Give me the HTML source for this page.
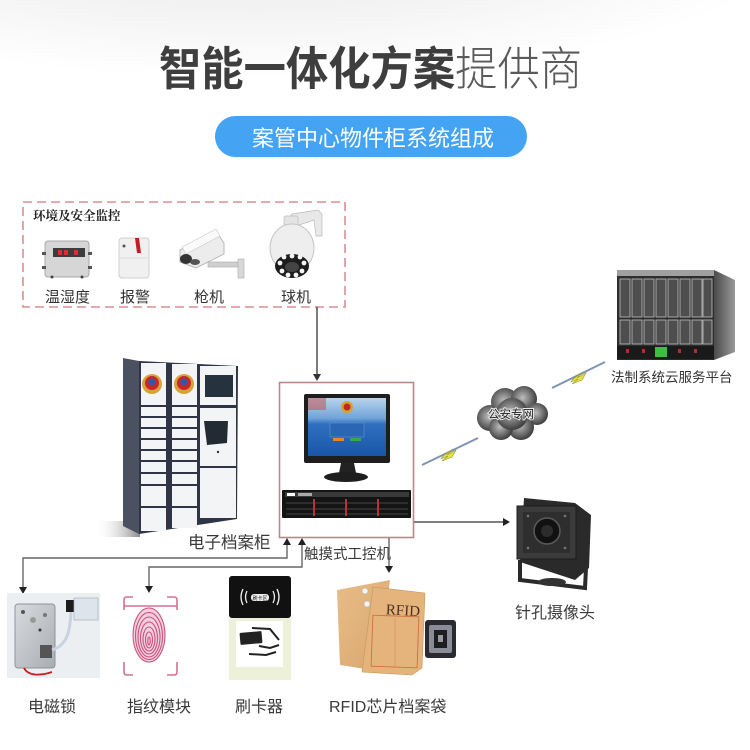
<!DOCTYPE html>
<html><head><meta charset="utf-8">
<style>
html,body{margin:0;padding:0;background:#fff;width:750px;height:750px;overflow:hidden;}
svg{display:block;}
text{font-family:"Liberation Sans","Noto Sans CJK SC",sans-serif;}
.lbl{font-size:16px;fill:#3a3a3a;}
</style></head><body>
<svg width="750" height="750" viewBox="0 0 750 750" xmlns="http://www.w3.org/2000/svg">
<defs>
 <radialGradient id="bgG" cx="0.45" cy="0.1" r="0.6">
  <stop offset="0" stop-color="#ebebeb"/><stop offset="0.55" stop-color="#f3f3f3"/><stop offset="1" stop-color="#ffffff"/>
 </radialGradient>
 <linearGradient id="scr" x1="0" y1="0" x2="0" y2="1">
  <stop offset="0" stop-color="#b9d3ec"/><stop offset="0.35" stop-color="#6fa3d8"/><stop offset="0.45" stop-color="#2f6fc0"/><stop offset="1" stop-color="#1a56a8"/>
 </linearGradient>
 <radialGradient id="cloudG" cx="0.45" cy="0.45" r="0.6">
  <stop offset="0" stop-color="#bdbdbd"/><stop offset="0.6" stop-color="#6a6a6a"/><stop offset="1" stop-color="#333"/>
 </radialGradient>
 <linearGradient id="shadow" x1="0" y1="0" x2="1" y2="0">
  <stop offset="0" stop-color="#fff" stop-opacity="0"/><stop offset="1" stop-color="#8a8a8a"/>
 </linearGradient>
 <linearGradient id="metal" x1="0" y1="0" x2="1" y2="1">
  <stop offset="0" stop-color="#d8dbde"/><stop offset="1" stop-color="#a9adb2"/>
 </linearGradient>
 <linearGradient id="kraft" x1="0" y1="0" x2="1" y2="1">
  <stop offset="0" stop-color="#e8bd88"/><stop offset="1" stop-color="#d9a56e"/>
 </linearGradient>
 <linearGradient id="side" x1="0" y1="0" x2="1" y2="0">
  <stop offset="0" stop-color="#4a4a4a"/><stop offset="1" stop-color="#9a9a9a"/>
 </linearGradient>
</defs>

<!-- background -->
<rect width="750" height="750" fill="#fff"/>
<ellipse cx="300" cy="30" rx="460" ry="120" fill="url(#bgG)"/>

<!-- title -->
<g transform="translate(159,85) scale(0.92,1)">
 <text font-size="46" font-weight="bold" fill="#3e3e3e">智能一体化方案<tspan font-weight="300" fill="#5a5a5a">提供商</tspan></text>
</g>

<!-- pill -->
<rect x="215" y="116" width="312" height="41" rx="20.5" fill="#44a3f2"/>
<text x="373" y="146" font-size="22" fill="#fff" text-anchor="middle">案管中心物件柜系统组成</text>

<!-- dashed env box -->
<rect x="23" y="202" width="322" height="105" fill="none" stroke="#dc8e92" stroke-width="1.6" stroke-dasharray="9 5"/>
<text x="33" y="220" font-size="12.5" font-weight="bold" fill="#222" style="font-family:'Liberation Serif','Noto Serif CJK SC',serif">环境及安全监控</text>

<!-- temp/humidity device -->
<rect x="45" y="241" width="44" height="36" rx="3" fill="#d6d6d6" stroke="#a8a8a8"/>
<rect x="53" y="248" width="32" height="9" fill="#3c3c3c"/>
<rect x="58" y="250" width="4" height="5" fill="#d83030"/><rect x="64" y="250" width="4" height="5" fill="#d83030"/><rect x="74" y="250" width="4" height="5" fill="#d83030"/>
<rect x="42" y="252" width="4" height="3" fill="#555"/><rect x="42" y="266" width="4" height="3" fill="#555"/>
<rect x="88" y="252" width="4" height="3" fill="#555"/><rect x="88" y="266" width="4" height="3" fill="#555"/>
<circle cx="52" cy="277" r="1.5" fill="#444"/><circle cx="82" cy="277" r="1.5" fill="#444"/>

<!-- alarm -->
<rect x="119" y="238" width="30" height="40" rx="3" fill="#f0f0f0" stroke="#cfcfcf"/>
<line x1="120" y1="258" x2="148" y2="258" stroke="#ddd"/>
<path d="M135,238 L139,238 L141,253 L137,253 z" fill="#c41e24"/>
<circle cx="124" cy="246" r="1.5" fill="#555"/>

<!-- gun camera -->
<rect x="208" y="262" width="34" height="5" fill="#cfcfcf" stroke="#aaa" stroke-width="0.6"/>
<rect x="238" y="259" width="6" height="19" fill="#d8d8d8" stroke="#aaa" stroke-width="0.6"/>
<path d="M180,250 L216,231 L224,243 L224,254 L196,268 L180,262 z" fill="#ececec" stroke="#b8b8b8"/>
<path d="M182,247 L216,229 L220,236 L186,254 z" fill="#fafafa" stroke="#c8c8c8" stroke-width="0.6"/>
<ellipse cx="186" cy="259" rx="6" ry="5" fill="#333"/>
<ellipse cx="195" cy="262" rx="5" ry="3" fill="#555"/>

<!-- dome camera -->
<path d="M286,222 L292,214 L318,210 L322,214 L322,236 L316,236 L314,220 L296,226 z" fill="#e8e8e8" stroke="#bbb" stroke-width="0.7"/>
<rect x="284" y="216" width="14" height="10" rx="2" fill="#e4e4e4" stroke="#bbb" stroke-width="0.7"/>
<ellipse cx="292" cy="248" rx="22" ry="24" fill="#eeeeee" stroke="#c4c4c4"/>
<ellipse cx="292" cy="266" rx="17" ry="12" fill="#1d1d1d"/>
<ellipse cx="292" cy="267" rx="7" ry="5" fill="#444"/>
<g fill="#f5f5f5">
<circle cx="280" cy="263" r="2.4"/><circle cx="284" cy="257" r="2.4"/><circle cx="292" cy="256" r="2.4"/><circle cx="300" cy="257" r="2.4"/><circle cx="304" cy="263" r="2.4"/>
<circle cx="282" cy="271" r="2.4"/><circle cx="288" cy="275" r="2.4"/><circle cx="296" cy="275" r="2.4"/><circle cx="302" cy="271" r="2.4"/>
</g>

<text x="45" y="302" font-size="15" fill="#333">温湿度</text>
<text x="120" y="302" font-size="15" fill="#333">报警</text>
<text x="194" y="302" font-size="15" fill="#333">枪机</text>
<text x="281" y="302" font-size="15" fill="#333">球机</text>

<!-- vertical connector down to computer box -->
<line x1="317" y1="307" x2="317" y2="375" stroke="#444" stroke-width="1.4"/>
<path d="M313,374 L321,374 L317,381 z" fill="#333"/>

<!-- cabinet -->
<rect x="95" y="521" width="45" height="16" fill="url(#shadow)"/>
<polygon points="123,358 139,361 139,534 123,526" fill="#4b5160"/>
<polygon points="139,361 238,366 237,519 139,534" fill="#2f3546"/>
<g fill="#f3f4f6">
<rect x="141" y="363" width="25" height="42"/>
<rect x="141" y="407" width="25" height="9"/><rect x="141" y="418" width="25" height="9"/><rect x="141" y="429" width="25" height="9"/><rect x="141" y="440" width="25" height="9"/><rect x="141" y="451" width="25" height="9"/><rect x="141" y="462" width="25" height="10"/><rect x="141" y="474" width="25" height="10"/><rect x="141" y="486" width="25" height="20"/><rect x="141" y="508" width="25" height="23"/>
<rect x="172" y="364" width="25" height="41"/>
<rect x="172" y="407" width="25" height="9"/><rect x="172" y="418" width="25" height="9"/><rect x="172" y="429" width="25" height="9"/><rect x="172" y="440" width="25" height="9"/><rect x="172" y="451" width="25" height="9"/><rect x="172" y="462" width="25" height="10"/><rect x="172" y="474" width="25" height="10"/><rect x="172" y="486" width="25" height="20"/><rect x="172" y="508" width="25" height="20"/>
<rect x="200" y="366" width="36" height="39"/>
<rect x="200" y="408" width="36" height="58"/>
<rect x="200" y="468" width="36" height="50"/>
</g>
<rect x="205" y="375" width="28" height="22" fill="#27323f"/>
<polygon points="204,421 228,421 227,443 207,445" fill="#222a33"/>
<circle cx="218" cy="452" r="1.2" fill="#333"/>
<circle cx="152" cy="384" r="10" fill="#d9a33a"/><circle cx="152" cy="383" r="7" fill="#c82828"/><circle cx="152" cy="382" r="3.5" fill="#2c5aa8"/>
<circle cx="184" cy="384" r="10" fill="#d9a33a"/><circle cx="184" cy="383" r="7" fill="#c82828"/><circle cx="184" cy="382" r="3.5" fill="#2c5aa8"/>
<text x="188" y="548" font-size="16.5" fill="#3a3a3a">电子档案柜</text>

<!-- computer box -->
<rect x="279.5" y="382.5" width="134" height="155" fill="#fff" stroke="#b68a8a" stroke-width="1.6"/>
<rect x="304" y="394" width="86" height="69" rx="2" fill="#1e1e1e"/>
<rect x="308" y="398" width="78" height="58" fill="url(#scr)"/>
<rect x="308" y="398" width="18" height="12" fill="#c85050" opacity="0.55"/>
<circle cx="347" cy="407" r="6" fill="#d8a030"/><circle cx="347" cy="407" r="3.5" fill="#c02828"/>
<rect x="330" y="423" width="34" height="14" fill="#2a66b4" stroke="#6c9ad4" stroke-width="0.5"/>
<rect x="333" y="438" width="11" height="3" fill="#e8842a"/><rect x="350" y="438" width="11" height="3" fill="#2fae45"/>
<polygon points="341,463 354,463 356,473 339,473" fill="#222"/>
<ellipse cx="346" cy="477" rx="22" ry="5" fill="#1e1e1e"/>
<rect x="282" y="490" width="129" height="28" rx="1" fill="#141414"/>
<rect x="285" y="492" width="124" height="5" fill="#3a3a3a"/>
<rect x="287" y="493" width="8" height="3" fill="#fff"/><rect x="298" y="493" width="14" height="3" fill="#aaa"/>
<g stroke="#555" stroke-width="0.8">
<line x1="286" y1="503" x2="408" y2="503"/><line x1="286" y1="509" x2="408" y2="509"/><line x1="286" y1="514" x2="408" y2="514"/>
</g>
<g fill="#c03030">
<rect x="313" y="499" width="2" height="17"/><rect x="345" y="499" width="2" height="17"/><rect x="377" y="499" width="2" height="17"/>
</g>
<text x="304" y="559" font-size="14.5" fill="#3a3a3a">触摸式工控机</text>

<!-- line to pinhole camera -->
<line x1="414" y1="522" x2="505" y2="522" stroke="#555" stroke-width="1.4"/>
<path d="M503,518 L510,522 L503,526 z" fill="#222"/>

<!-- bottom connectors -->
<g fill="none" stroke="#666" stroke-width="1.4">
<polyline points="287,543 287,558 23,558 23,588"/>
<polyline points="302,543 302,567 149,567 149,587"/>
<line x1="389" y1="538" x2="389" y2="567"/>
</g>
<g fill="#222">
<path d="M283,545 L287,538 L291,545 z"/>
<path d="M298,545 L302,538 L306,545 z"/>
<path d="M19,587 L27,587 L23,594 z"/>
<path d="M145,586 L153,586 L149,593 z"/>
<path d="M385,566 L393,566 L389,573 z"/>
</g>

<!-- network lines -->
<line x1="422" y1="465" x2="478" y2="438" stroke="#7f93b4" stroke-width="2"/>
<path d="M443,456 L453,449 L447,455 L456,450 L452,457 L442,461 L448,456 L441,459 z" fill="#e6e040" stroke="#9a9a30" stroke-width="0.6"/>
<line x1="552" y1="388" x2="605" y2="362" stroke="#7f93b4" stroke-width="2"/>
<path d="M573,379 L583,372 L577,378 L586,373 L582,380 L572,384 L578,379 L571,382 z" fill="#e6e040" stroke="#9a9a30" stroke-width="0.6"/>
<!-- cloud -->
<g fill="url(#cloudG)">
<circle cx="490" cy="418" r="13"/><circle cx="505" cy="402" r="14"/><circle cx="524" cy="399" r="13"/><circle cx="537" cy="414" r="11"/><circle cx="521" cy="427" r="13"/><circle cx="501" cy="428" r="12"/><circle cx="512" cy="414" r="16"/>
</g>
<text x="511" y="418" font-size="11.5" fill="#222" text-anchor="middle" stroke="#e8e8e8" stroke-width="2" paint-order="stroke">公安专网</text>

<!-- server rack -->
<rect x="617" y="270" width="97" height="90" fill="#2e2e2e"/>
<polygon points="714,270 735,280 735,352 714,360" fill="url(#side)"/>
<rect x="617" y="270" width="97" height="6" fill="#a0a0a0"/>
<g fill="#4e4e4e" stroke="#b4b4b4" stroke-width="0.9">
<rect x="620" y="279" width="10" height="38"/><rect x="632" y="279" width="10" height="38"/><rect x="644" y="279" width="10" height="38"/><rect x="656" y="279" width="10" height="38"/><rect x="668" y="279" width="10" height="38"/><rect x="680" y="279" width="10" height="38"/><rect x="692" y="279" width="10" height="38"/><rect x="703" y="279" width="9" height="38"/>
<rect x="620" y="320" width="10" height="24"/><rect x="632" y="320" width="10" height="24"/><rect x="644" y="320" width="10" height="24"/><rect x="656" y="320" width="10" height="24"/><rect x="668" y="320" width="10" height="24"/><rect x="680" y="320" width="10" height="24"/><rect x="692" y="320" width="10" height="24"/><rect x="703" y="320" width="9" height="24"/>
</g>
<rect x="617" y="346" width="97" height="13" fill="#1a1a1a"/>
<rect x="655" y="347" width="12" height="10" fill="#3fbf3f"/>
<g fill="#b03030"><rect x="626" y="349" width="3" height="4"/><rect x="642" y="349" width="3" height="4"/><rect x="678" y="349" width="3" height="4"/><rect x="694" y="349" width="3" height="4"/></g>
<text x="611" y="382" font-size="13.5" fill="#333">法制系统云服务平台</text>

<!-- pinhole camera -->
<path d="M520,560 L520,580 L585,588 L586,568" fill="none" stroke="#2a2a2a" stroke-width="4"/>
<ellipse cx="552" cy="582" rx="14" ry="4" fill="#333"/>
<polygon points="524,498 575,503 591,515 589,568 575,580 520,562" fill="#2a2a2a"/>
<rect x="517" y="506" width="59" height="53" fill="#3b3b3b" stroke="#1c1c1c"/>
<rect x="523" y="512" width="47" height="41" fill="#2e2e2e"/>
<circle cx="547" cy="531" r="13" fill="#111" stroke="#5a5a5a" stroke-width="1.5"/>
<circle cx="547" cy="531" r="6" fill="#2c2c2c"/>
<g fill="#777"><circle cx="528" cy="516" r="1.3"/><circle cx="565" cy="516" r="1.3"/><circle cx="528" cy="548" r="1.3"/><circle cx="565" cy="548" r="1.3"/></g>
<text x="515" y="618" class="lbl">针孔摄像头</text>

<!-- electromagnetic lock -->
<rect x="7" y="593" width="93" height="85" fill="#eceff2"/>
<rect x="15" y="604" width="40" height="64" rx="3" fill="url(#metal)" stroke="#8f9398"/>
<circle cx="23" cy="612" r="2" fill="#555"/><circle cx="33" cy="620" r="3" fill="#999"/><circle cx="40" cy="630" r="1.5" fill="#333"/><circle cx="45" cy="615" r="2" fill="#777"/>
<rect x="40" y="645" width="12" height="13" fill="#555"/>
<path d="M52,650 C68,645 70,630 71,612" fill="none" stroke="#c7d3de" stroke-width="3"/>
<rect x="66" y="600" width="8" height="12" fill="#1c1c1c"/>
<rect x="74" y="598" width="24" height="22" fill="#dde4ec" stroke="#a8b0bb" stroke-width="0.7"/>
<path d="M24,668 C28,676 40,676 52,672" fill="none" stroke="#c02020" stroke-width="1.8"/>

<!-- fingerprint -->
<g fill="none" stroke="#d47090" stroke-width="1.6">
<path d="M124,610 V600 Q124,597 127,597 H133"/>
<path d="M167,597 H174 Q177,597 177,600 V610"/>
<line x1="124" y1="606" x2="177" y2="606"/>
<path d="M124,662 V672 Q124,675 127,675 H133"/>
<path d="M167,675 H174 Q177,675 177,672 V662"/>
</g>
<ellipse cx="149" cy="635" rx="16" ry="27" fill="#f3cfdb"/>
<g fill="none" stroke="#c95580" stroke-width="1.1">
<ellipse cx="149" cy="635" rx="16" ry="27"/><ellipse cx="149" cy="636" rx="13.5" ry="23.5"/><ellipse cx="149" cy="637" rx="11" ry="20"/><ellipse cx="149" cy="638" rx="8.5" ry="16"/><ellipse cx="149" cy="639" rx="6" ry="12"/><ellipse cx="149" cy="640" rx="3.5" ry="8"/><ellipse cx="149" cy="641" rx="1.2" ry="4"/>
</g>

<!-- card reader -->
<rect x="229" y="576" width="62" height="42" rx="3" fill="#111"/>
<g fill="none" stroke="#eee" stroke-width="1.3">
<path d="M243,589 Q239,597 243,605"/><path d="M247,591 Q244,597 247,603"/>
<path d="M277,589 Q281,597 277,605"/><path d="M273,591 Q276,597 273,603"/>
</g>
<rect x="251" y="594" width="18" height="7" rx="3" fill="#eee"/>
<text x="260" y="600" font-size="5" fill="#111" text-anchor="middle">刷卡区</text>
<rect x="229" y="618" width="62" height="62" fill="#eef1d9"/>
<rect x="236" y="621" width="47" height="46" fill="#fff"/>
<rect x="240" y="632" width="22" height="12" rx="1" transform="rotate(-5 251 638)" fill="#222"/>
<g fill="none" stroke="#222" stroke-width="2">
<path d="M252,628 L270,629 L279,640"/><path d="M259,646 L270,648 L279,645"/><path d="M249,654 L266,655 L276,652"/>
</g>

<!-- RFID envelopes -->
<polygon points="337,590 390,580 378,671 340,665" fill="url(#kraft)"/>
<circle cx="365" cy="591" r="3" fill="#f4f4f4" stroke="#aaa" stroke-width="0.5"/>
<circle cx="367" cy="604" r="3" fill="#f4f4f4" stroke="#aaa" stroke-width="0.5"/>
<polygon points="373,587 425,593 422,668 412,675 362,672" fill="#e4b47c" stroke="#c89658" stroke-width="0.6"/>
<text x="386" y="615" font-size="15" fill="#4a3220" style="font-family:'Liberation Serif',serif" transform="rotate(3 400 608)">RFID</text>
<rect x="372" y="616" width="46" height="51" fill="none" stroke="#d0703c" stroke-width="0.9" transform="rotate(2 395 641)"/>
<line x1="395" y1="618" x2="395" y2="666" stroke="#d8905a" stroke-width="0.6"/>
<rect x="425" y="620" width="31" height="38" rx="3" fill="#2a2a30"/>
<rect x="429" y="625" width="23" height="28" rx="2" fill="#8a8c96"/>
<rect x="434" y="630" width="13" height="18" fill="#1e1e22"/>
<rect x="438" y="635" width="5" height="7" fill="#999"/>

<!-- bottom labels -->
<text x="28" y="712" class="lbl">电磁锁</text>
<text x="127" y="712" class="lbl">指纹模块</text>
<text x="235" y="712" class="lbl">刷卡器</text>
<text x="329" y="712" class="lbl">RFID芯片档案袋</text>
</svg>
</body></html>
